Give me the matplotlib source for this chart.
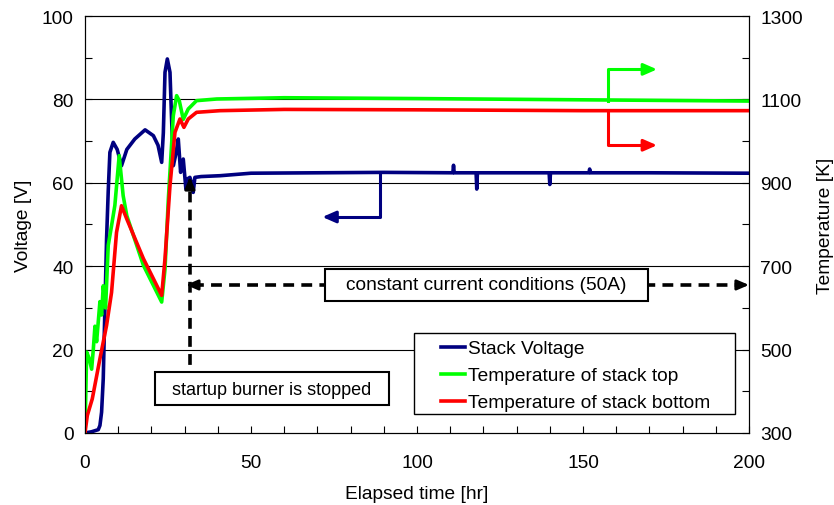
import matplotlib.pyplot as plt
from matplotlib.patches import Rectangle
from matplotlib.ticker import MultipleLocator

plt.rcParams["font.family"] = ["Liberation Sans", "DejaVu Sans"]
FS = 13.8

# elapsed time [hr] and stack voltage [V]
t_volt = [0, 2, 4, 4.5, 5.0, 5.5, 6.0, 6.5, 7.0, 7.5, 8.5, 9.7, 11.0, 12.6, 15, 18.1,
          20.6, 22, 23.1, 23.6, 24.1, 24.8, 25.6, 26.1, 26.6, 27.4, 28.1, 28.8,
          29.6, 30.4, 31.0, 31.6, 32.1, 32.6, 33.1, 35, 40.7, 50, 70, 90, 110.8,
          111, 111.2, 117.8, 118, 118.2, 139.8, 140, 140.2, 151.8, 152, 152.2, 170, 200]
voltage = [0, 0.3, 0.8, 1.8, 5, 13, 30, 46.5, 58, 67.3, 69.7, 68, 64.1, 68, 70.5, 72.7,
           71.3, 69, 64.9, 72, 86.5, 89.7, 86.5, 75, 64.1, 67, 70.5, 62.5,
           65.7, 58.5, 61, 61.3, 60, 57.7, 61.3, 61.5, 61.7, 62.3, 62.4, 62.5, 62.4,
           64.2, 62.4, 62.4, 58.5, 62.4, 62.4, 59.6, 62.4, 62.4, 63.3, 62.4, 62.4, 62.3]

# temperature of stack top [K]
t_top = [0, 0.5, 1.2, 2.0, 2.5, 3.0, 3.5, 4.5, 5.0, 5.5, 6.2, 7.0, 8.0, 9.0, 10.3,
         11.5, 12.6, 17.6, 23.1, 24.1, 25.1, 26.6, 27.6, 28.4, 29.6, 31.1, 33.6,
         39.7, 60, 100, 150, 200]
temp_top = [300, 494, 480, 453, 500, 556, 519, 615, 583, 653, 600, 750, 797, 846, 965,
            869, 821, 702, 614, 693, 860, 1061, 1109, 1097, 1052, 1077, 1097,
            1101, 1104, 1102, 1099, 1096]

# temperature of stack bottom [K]
t_bot = [0, 0.7, 2.2, 4.5, 6.5, 8.0, 9.5, 11.0, 12.6, 17.6, 23.1, 24.1, 25.6,
         27.1, 28.6, 29.8, 31.1, 33.6, 40.7, 60, 100, 150, 200]
temp_bot = [300, 342, 382, 478, 558, 637, 781, 845, 813, 718, 630, 718, 893,
            1021, 1053, 1033, 1053, 1069, 1073, 1076, 1075, 1073, 1073]

temp_ticks = [300, 500, 700, 900, 1100, 1300]

fig = plt.figure(figsize=(8.34, 5.06), dpi=100)
ax = fig.add_axes([0.1019, 0.1423, 0.7962, 0.8241])
ax2 = ax.twinx()

for v in [20, 40, 60, 80]:
    ax.axhline(v, color="black", lw=0.8, zorder=0)

l1, = ax.plot(t_volt, voltage, color="#000080", lw=2.6, label="Stack Voltage")
l2, = ax2.plot(t_top, temp_top, color="#00ff00", lw=2.6, label="Temperature of stack top")
l3, = ax2.plot(t_bot, temp_bot, color="#ff0000", lw=2.6, label="Temperature of stack bottom")

ax.set_xlim(0, 200)
ax.set_ylim(0, 100)
ax2.set_ylim(300, 1300)
ax.xaxis.set_major_locator(MultipleLocator(50))
ax.xaxis.set_minor_locator(MultipleLocator(10))
ax.yaxis.set_major_locator(MultipleLocator(20))
ax.yaxis.set_minor_locator(MultipleLocator(10))
ax2.set_yticks(temp_ticks)
ax2.yaxis.set_minor_locator(MultipleLocator(100))
for a in (ax, ax2):
    a.tick_params(which="both", direction="in", length=5, labelsize=FS, width=0.8)
ax.tick_params(axis="y", pad=8)
ax2.tick_params(axis="y", pad=8)
ax.tick_params(axis="x", pad=15)

ax.set_xlabel("Elapsed time [hr]", fontsize=FS, labelpad=10)
ax.set_ylabel("Voltage [V]", fontsize=FS, labelpad=7)
ax2.set_ylabel("Temperature [K]", fontsize=FS, labelpad=10)

head = "-|>,head_length=0.8,head_width=0.35"

# arrows pointing to the axis each curve belongs to
ax.plot([88.9, 88.9, 73.5], [62.0, 51.8, 51.8], color="#000080", lw=2.2)
ax.annotate("", xy=(71.5, 51.8), xytext=(74.5, 51.8),
            arrowprops=dict(arrowstyle=head, color="#000080", lw=2.2, shrinkA=0, shrinkB=0))
ax2.plot([157.5, 157.5, 169.5], [1097, 1172, 1172], color="#00ff00", lw=2.2)
ax2.annotate("", xy=(172.3, 1172), xytext=(169, 1172),
             arrowprops=dict(arrowstyle=head, color="#00ff00", lw=2.2, shrinkA=0, shrinkB=0))
ax2.plot([157.5, 157.5, 169.5], [1073, 990, 990], color="#ff0000", lw=2.2)
ax2.annotate("", xy=(172.3, 990), xytext=(169, 990),
             arrowprops=dict(arrowstyle=head, color="#ff0000", lw=2.2, shrinkA=0, shrinkB=0))

# dashed event arrows
dhead = "-|>,head_length=0.7,head_width=0.3"
ax2.plot([31.6, 31.6], [377, 905], color="black", lw=2.6, ls=(0, (3, 2)))
ax2.annotate("", xy=(31.6, 914), xytext=(31.6, 900),
             arrowprops=dict(arrowstyle=dhead, color="black", lw=2, shrinkA=0, shrinkB=0))
ax2.plot([32.5, 198.5], [655, 655], color="black", lw=2.6, ls=(0, (3, 2)))
ax2.annotate("", xy=(30.4, 655), xytext=(33.5, 655),
             arrowprops=dict(arrowstyle=dhead, color="black", lw=2, shrinkA=0, shrinkB=0))
ax2.annotate("", xy=(200, 655), xytext=(197, 655),
             arrowprops=dict(arrowstyle=dhead, color="black", lw=2, shrinkA=0, shrinkB=0),
             annotation_clip=False)

# annotation boxes
ax2.add_patch(Rectangle((21.1, 367), 70.5, 79, fc="white", ec="black", lw=1.5, zorder=5))
ax2.text(56.3, 405, "startup burner is stopped", ha="center", va="center", fontsize=13, zorder=6)
ax2.add_patch(Rectangle((72.3, 617), 97.3, 76, fc="white", ec="black", lw=1.5, zorder=5))
ax2.text(121, 655, "constant current conditions (50A)", ha="center", va="center",
         fontsize=FS, zorder=6)

# legend frame drawn separately so the entries can sit indented in it
ax2.add_patch(Rectangle((0.4955, 0.0456), 0.4834, 0.1942, transform=ax2.transAxes,
                        fc="white", ec="black", lw=1.0, zorder=6))
leg = ax2.legend(handles=[l1, l2, l3], loc="upper left",
                 bbox_to_anchor=(0.5355, 0.223), frameon=False, fontsize=FS,
                 handlelength=1.25, handletextpad=0.2, labelspacing=0.5,
                 borderaxespad=0, borderpad=0)
leg.set_zorder(7)

fig.savefig("out.png", dpi=100)
